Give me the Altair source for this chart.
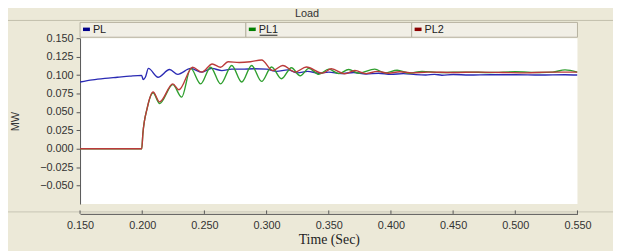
import altair as alt
import pandas as pd

# ---- data ----
series_names = ["PL", "PL1", "PL2"]
swatch_colors = ["#00008B", "#008000", "#8B0000"]
line_colors = ["#2a2ab4", "#2f9f2f", "#bb3a3a"]

pl_t = [0.150, 0.160, 0.170, 0.180, 0.190, 0.1995, 0.2008, 0.2025, 0.2050, 0.2127,
        0.2220, 0.2286, 0.2390, 0.2480, 0.2560, 0.2640, 0.2720, 0.2800, 0.2900, 0.3000,
        0.3080, 0.3170, 0.3250, 0.3330, 0.3420, 0.3500, 0.3600, 0.3700, 0.3800, 0.3900,
        0.4000, 0.4100, 0.4200, 0.4280, 0.4350, 0.4410, 0.4500, 0.4630, 0.4800, 0.5000,
        0.5200, 0.5400, 0.5500]
pl_v = [0.0905, 0.0935, 0.0955, 0.0970, 0.0985, 0.0995, 0.0940, 0.0970, 0.1090, 0.0970,
        0.1075, 0.1010, 0.1090, 0.1040, 0.1090, 0.1060, 0.1080, 0.1080, 0.1085, 0.1080,
        0.1050, 0.1070, 0.1030, 0.1050, 0.1025, 0.1040, 0.1020, 0.1035, 0.1015, 0.1025,
        0.1010, 0.1020, 0.1005, 0.1000, 0.1010, 0.0998, 0.1008, 0.1000, 0.1005, 0.1005,
        0.1000, 0.1005, 0.1000]

pl1_t = [0.150, 0.1996, 0.2005, 0.2040, 0.2087, 0.2140, 0.2246, 0.2317, 0.2390, 0.2470,
         0.2550, 0.2630, 0.2720, 0.2800, 0.2880, 0.2960, 0.3040, 0.3120, 0.3200, 0.3270,
         0.3340, 0.3420, 0.3500, 0.3580, 0.3660, 0.3740, 0.3870, 0.3950, 0.4050, 0.4150,
         0.4250, 0.4400, 0.4600, 0.4800, 0.5000, 0.5200, 0.5300, 0.5400, 0.5500]
pl1_v = [0.000, 0.000, 0.020, 0.055, 0.076, 0.0614, 0.087, 0.070, 0.109, 0.088,
         0.1106, 0.088, 0.113, 0.0905, 0.113, 0.0914, 0.111, 0.095, 0.110, 0.099,
         0.109, 0.101, 0.108, 0.102, 0.1075, 0.1025, 0.108, 0.103, 0.1065, 0.1025,
         0.105, 0.1035, 0.104, 0.1035, 0.1045, 0.1035, 0.1040, 0.1070, 0.1040]

pl2_t = [0.150, 0.1996, 0.2005, 0.2040, 0.2087, 0.2140, 0.2246, 0.2295, 0.2405, 0.2480,
         0.2563, 0.2630, 0.2690, 0.2780, 0.2870, 0.2960, 0.3050, 0.3130, 0.3230, 0.3320,
         0.3450, 0.3520, 0.3630, 0.3710, 0.3800, 0.3890, 0.3980, 0.4070, 0.4170, 0.4300,
         0.4500, 0.4700, 0.4900, 0.5090, 0.5250, 0.5400, 0.5500]
pl2_v = [0.000, 0.000, 0.020, 0.055, 0.077, 0.0636, 0.088, 0.080, 0.1106, 0.104,
         0.115, 0.1106, 0.118, 0.117, 0.118, 0.1205, 0.106, 0.113, 0.104, 0.111,
         0.1026, 0.1085, 0.1017, 0.1062, 0.1020, 0.1050, 0.1025, 0.1045, 0.1030, 0.1040,
         0.1035, 0.1040, 0.1035, 0.1030, 0.1040, 0.1040, 0.1040]

x_ticks = [0.15, 0.20, 0.25, 0.30, 0.35, 0.40, 0.45, 0.50, 0.55]
y_ticks = [-0.050, -0.025, 0.000, 0.025, 0.050, 0.075, 0.100, 0.125, 0.150]

BG = "#ECE9D8"
W, H = 504, 168

xscale = alt.Scale(domain=[0.15, 0.55], nice=False, zero=False)
yscale = alt.Scale(domain=[-0.075, 0.150], nice=False, zero=False)

xaxis = alt.Axis(values=x_ticks, format=".3f", title="Time (Sec)", offset=10,
                 grid=False, ticks=False, labelPadding=6, labelFlush=False,
                 domainColor="#555555", labelColor="#333333", labelFontSize=11,
                 labelFont="Liberation Sans", titleFont="Liberation Serif",
                 titleFontSize=14, titleFontWeight="normal", titleColor="#222222",
                 titlePadding=2)
yaxis = alt.Axis(values=y_ticks, format=".3f", title="MW", grid=False,
                 tickSize=4, labelPadding=3, labelFlush=False, domainColor="#555555",
                 tickColor="#555555", labelColor="#333333", labelFontSize=11,
                 labelFont="Liberation Sans", titleFont="Liberation Sans",
                 titleFontSize=11, titleFontWeight="normal", titleColor="#333333",
                 titlePadding=19)


def line_layer(ts, vs, color):
    df = pd.DataFrame({"t": ts, "v": vs})
    return alt.Chart(df).mark_line(color=color, strokeWidth=1.4,
                                   interpolate="monotone", clip=True).encode(
        x=alt.X("t:Q", scale=xscale, axis=xaxis),
        y=alt.Y("v:Q", scale=yscale, axis=yaxis),
    )


# upward-pointing x ticks on the offset axis line
xtick_marks = alt.Chart(pd.DataFrame({"t": x_ticks})).mark_rule(
    color="#555555", strokeWidth=1).encode(
    x=alt.X("t:Q", scale=xscale, axis=xaxis),
    y=alt.value(H + 6.5), y2=alt.value(H + 10))

lines = alt.layer(
    line_layer(pl_t, pl_v, line_colors[0]),
    line_layer(pl1_t, pl1_v, line_colors[1]),
    line_layer(pl2_t, pl2_v, line_colors[2]),
    xtick_marks,
)

one = pd.DataFrame({"a": [0]})
sep_top = alt.Chart(one).mark_rule(color="#C2BEAC", strokeWidth=1).encode(
    x=alt.value(-80), x2=alt.value(W + 40), y=alt.value(-18))
sep_bottom = alt.Chart(one).mark_rule(color="#C8C4B4", strokeWidth=1).encode(
    x=alt.value(-80), x2=alt.value(W + 40), y=alt.value(176))
title_txt = alt.Chart(one).mark_text(text="Load", fontSize=11, font="Liberation Sans",
                                     color="#333333", baseline="middle").encode(
    x=alt.value(230), y=alt.value(-24))

leg_df = pd.DataFrame({"series": series_names, "sw": swatch_colors})
leg_x = alt.X("series:N", scale=alt.Scale(type="band", domain=series_names,
                                          paddingInner=0, paddingOuter=0), axis=None)
leg_x0 = alt.X("series:N", scale=alt.Scale(type="band", domain=series_names,
                                           paddingInner=0, paddingOuter=0),
               axis=None, bandPosition=0)
cells = alt.Chart(leg_df).mark_rect(fill="#F1EFE6", stroke="#B5B1A0", strokeWidth=1).encode(
    x=leg_x, y=alt.value(-16), y2=alt.value(-1))
swatches = alt.Chart(leg_df).mark_point(shape="M-1,-0.5H1V0.5H-1Z", size=49, filled=True,
                                        opacity=1, xOffset=6.5).encode(
    x=leg_x0, y=alt.value(-9), color=alt.Color("sw:N", scale=None))
labels = alt.Chart(leg_df).mark_text(align="left", baseline="middle", dx=13, fontSize=11,
                                     font="Liberation Sans", color="#222222").encode(
    x=leg_x0, y=alt.value(-8.5), text="series:N")
underline = alt.Chart(leg_df).transform_filter(alt.datum.series == "PL1").mark_point(
    shape="M-1,0H1", size=324, filled=False, stroke="#222222", strokeWidth=1,
    opacity=1, xOffset=23).encode(x=leg_x0, y=alt.value(-3))

legend = alt.layer(cells, swatches, labels, underline)

chart = alt.layer(sep_top, sep_bottom, title_txt, lines, legend).resolve_scale(
    x="independent"
).properties(
    width=W, height=H,
    padding={"left": 73, "top": 29, "right": 36, "bottom": 46},
    autosize=alt.AutoSizeParams(type="none"),
    background=BG,
).configure_view(fill="white", stroke=None)

chart.save("out.html", embed_options={"renderer": "svg", "actions": False})
